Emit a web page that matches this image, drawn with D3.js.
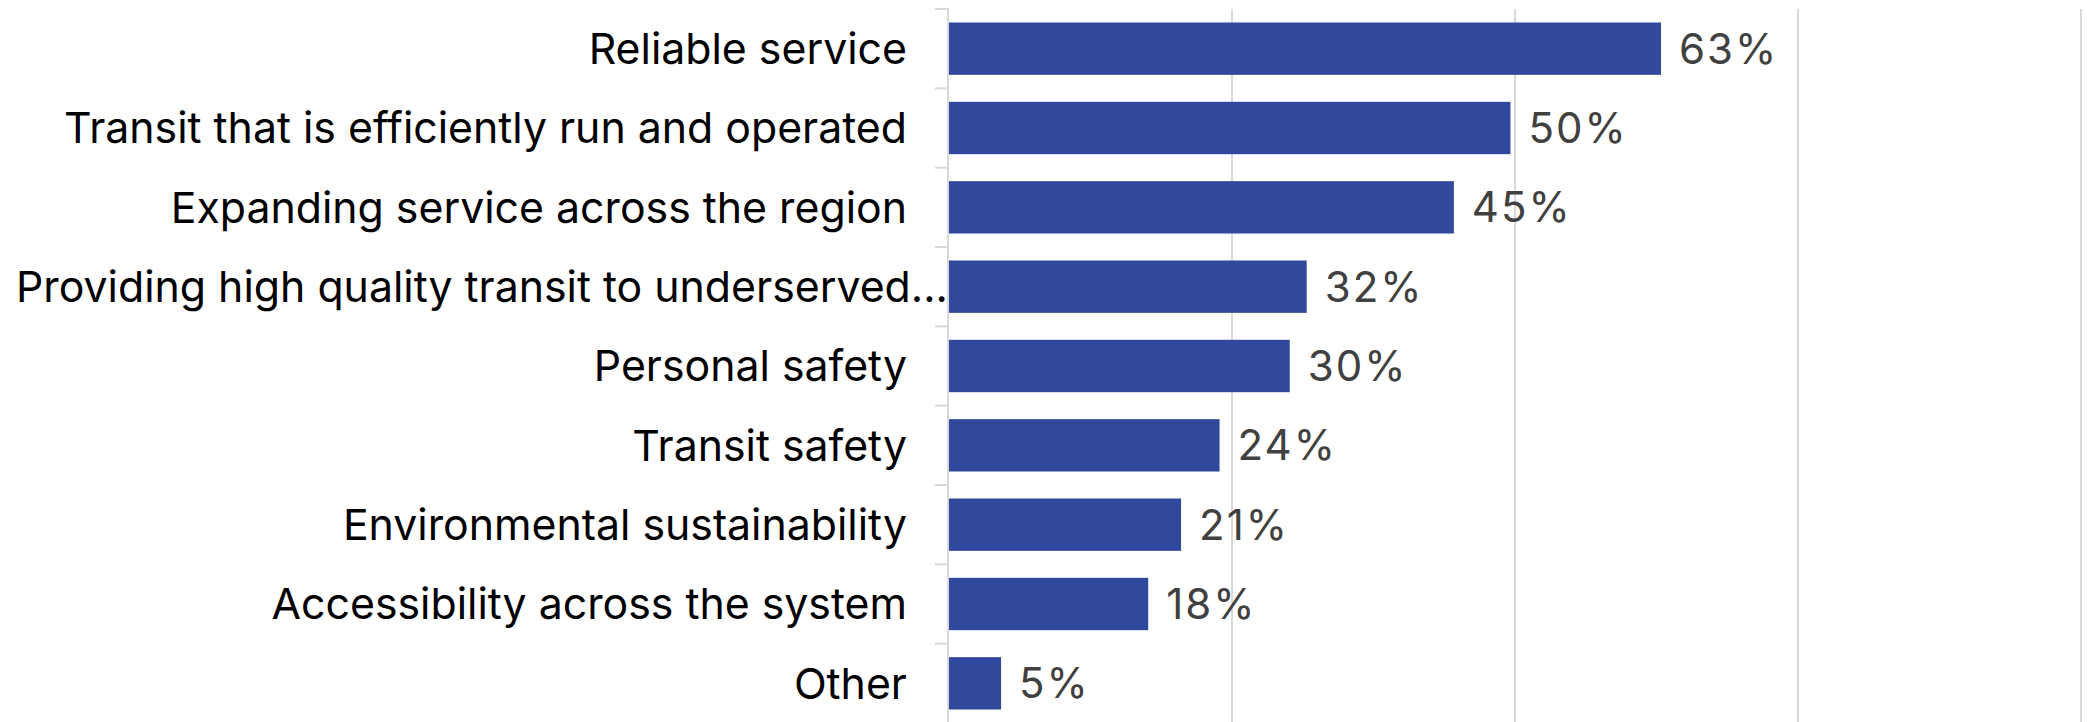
<!DOCTYPE html>
<html>
<head>
<meta charset="utf-8">
<script src="https://cdn.jsdelivr.net/npm/d3@7"></script>
<style>
  body { margin: 0; background: #fff; }
  svg { display: block; }
  .cat { font-family: Inter, "Noto Sans", sans-serif; font-size: 42.8px; fill: #000; }
  .val { font-family: Inter, "Noto Sans", sans-serif; font-size: 42px; fill: #404040; letter-spacing: 2px; }
</style>
</head>
<body>
<div id="chart"></div>
<script>
// survey answers, top to bottom
var categories = [
  "Reliable service",
  "Transit that is efficiently run and operated",
  "Expanding service across the region",
  "Providing high quality transit to underserved...",
  "Personal safety",
  "Transit safety",
  "Environmental sustainability",
  "Accessibility across the system",
  "Other"
];
var percents = [62.9, 49.6, 44.6, 31.6, 30.1, 23.9, 20.5, 17.6, 4.6];
var gridTicks = [25, 50, 75, 100];

var svgWidth = 2087;
var svgHeight = 722;
var margin = { top: 9, right: 6, bottom: 0, left: 949 };

var svg = d3.select("#chart")
  .append("svg")
  .attr("width", svgWidth)
  .attr("height", svgHeight);

var data = categories.map(function(c, i) {
  return { name: c, value: percents[i] };
});

var xScale = d3.scaleLinear()
  .domain([0, 100])
  .range([margin.left, svgWidth - margin.right]);

var yScale = d3.scaleBand()
  .domain(categories)
  .range([margin.top, svgHeight + 1])
  .paddingInner(0.34)
  .paddingOuter(0.17);

// vertical gridlines
svg.append("g")
  .selectAll("line")
  .data(gridTicks)
  .enter()
  .append("line")
  .attr("x1", d => xScale(d))
  .attr("x2", d => xScale(d))
  .attr("y1", margin.top)
  .attr("y2", svgHeight)
  .attr("stroke", "#d9d9d9")
  .attr("stroke-width", 2);

// category axis line + boundary ticks
var step = yScale.step();
var edges = categories.map(function(c) {
  return yScale(c) - yScale.paddingOuter() * step;
});

svg.append("line")
  .attr("x1", xScale(0) - 1)
  .attr("x2", xScale(0) - 1)
  .attr("y1", margin.top)
  .attr("y2", svgHeight)
  .attr("stroke", "#d9d9d9")
  .attr("stroke-width", 2);

svg.append("g")
  .selectAll("line")
  .data(edges)
  .enter()
  .append("line")
  .attr("x1", xScale(0) - 14)
  .attr("x2", xScale(0))
  .attr("y1", d => d)
  .attr("y2", d => d)
  .attr("stroke", "#d9d9d9")
  .attr("stroke-width", 2);

// bars
svg.append("g")
  .selectAll("rect")
  .data(data)
  .enter()
  .append("rect")
  .attr("x", xScale(0))
  .attr("y", d => yScale(d.name))
  .attr("width", d => xScale(d.value) - xScale(0))
  .attr("height", yScale.bandwidth())
  .attr("fill", "#30499d");

// value labels
svg.append("g")
  .selectAll("text")
  .data(data)
  .enter()
  .append("text")
  .attr("class", "val")
  .attr("x", d => xScale(d.value) + 18)
  .attr("y", d => yScale(d.name) + yScale.bandwidth() / 2)
  .attr("dy", "0.36em")
  .text(d => Math.round(d.value) + "%");

// category labels
var labels = svg.append("g")
  .selectAll("text")
  .data(data)
  .enter()
  .append("text")
  .attr("class", "cat")
  .attr("x", xScale(0) - 42)
  .attr("y", d => yScale(d.name) + yScale.bandwidth() / 2)
  .attr("dy", "0.36em")
  .attr("text-anchor", "end")
  .text(d => d.name);

// long label gets pushed to the left edge instead of clipping
labels.each(function() {
  var box = this.getBBox();
  if (box.x < 16) {
    d3.select(this).attr("text-anchor", "start").attr("x", 16);
  }
});
</script>
</body>
</html>
